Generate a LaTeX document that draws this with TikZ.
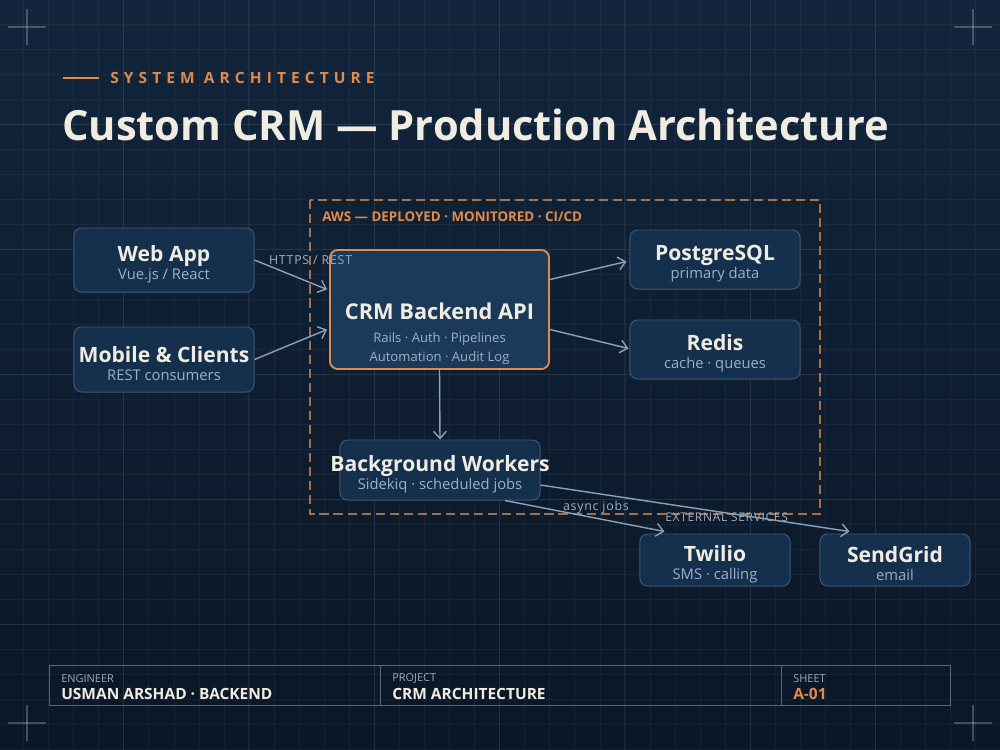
\documentclass[tikz,border=0pt]{standalone}
\usepackage{fontspec}
\setmainfont{Open Sans}
\newfontfamily\trackfont[LetterSpace=33]{Open Sans}
\newfontfamily\smalltrack[LetterSpace=6]{Open Sans}
\usepackage{xcolor}
\usepackage{tikz}
\usetikzlibrary{arrows.meta,calc}

\definecolor{bgTop}{HTML}{12253C}
\definecolor{bgBottom}{HTML}{0B1726}
\definecolor{gridCol}{HTML}{8FA6C0}
\definecolor{boxFill}{HTML}{15304D}
\definecolor{boxEdge}{HTML}{3F5873}
\definecolor{apiFill}{HTML}{1B3A5A}
\definecolor{accent}{HTML}{E08B4C}
\definecolor{cream}{HTML}{F1ECE2}
\definecolor{subText}{HTML}{9DB0C6}
\definecolor{wireCol}{HTML}{8CA2BA}
\definecolor{frameCol}{HTML}{56677C}

\tikzstyle{tsGrid} = [
    draw=gridCol,
    opacity=0.07,
    line width=0.5pt
]
\tikzstyle{tsGridMajor} = [
    tsGrid,
    opacity=0.11
]
\tikzstyle{tsCorner} = [
    draw=gridCol,
    opacity=0.4,
    line width=0.8pt
]
\tikzstyle{tsBox} = [
    rectangle,
    rounded corners=5.5pt,
    draw=boxEdge,
    fill=boxFill,
    line width=0.7pt,
    inner sep=0pt,
    align=center,
    text=cream,
    font=\fontsize{10.5}{12.8}\selectfont
]
\tikzstyle{tsWire} = [
    draw=wireCol,
    line width=1pt,
    -{Straight Barb[length=1.8mm,width=3.2mm]}
]
\tikzstyle{tsWireLabel} = [
    text=subText,
    inner sep=0pt,
    font=\smalltrack\fontsize{8.8}{10}\selectfont
]
\tikzstyle{tsSheetLabel} = [
    anchor=west,
    inner sep=0pt,
    text=subText!85!gray,
    font=\fontsize{7.8}{9}\selectfont
]
\tikzstyle{tsSheetValue} = [
    anchor=west,
    inner sep=0pt,
    text=cream,
    font=\bfseries\fontsize{11}{12}\selectfont
]

\newcommand{\nodelines}[2]{%
    \rule{0pt}{17pt}\makebox[0pt]{\fontsize{15}{17}\selectfont\bfseries #1}\\[0pt]
    \makebox[0pt]{\color{subText}#2}}

\begin{document}
\begin{tikzpicture}[x=0.025cm, y=-0.025cm]
    \useasboundingbox (0,0) rectangle (1000,750);

    % Background and grid
    \fill[top color=bgTop, bottom color=bgBottom] (0,0) rectangle (1000,750);
    \foreach \i in {0,...,39} {
        \pgfmathsetmacro{\gx}{23.5+25.06*\i}
        \draw[tsGrid] (\gx,0) -- (\gx,750);
    }
    \foreach \j in {0,...,29} {
        \pgfmathsetmacro{\gy}{24+25*\j}
        \draw[tsGrid] (0,\gy) -- (1000,\gy);
    }
    \foreach \gx in {123.4,248.7,374,499.3,624.6,749.9,875.2} {
        \draw[tsGridMajor] (\gx,0) -- (\gx,750);
    }
    \foreach \gy in {124,249,374,499,624} {
        \draw[tsGridMajor] (0,\gy) -- (1000,\gy);
    }

    % Corner marks
    \foreach \cx/\cy in {27/27, 973/27, 27/723, 973/723} {
        \draw[tsCorner] (\cx-19,\cy) -- (\cx+19,\cy);
        \draw[tsCorner] (\cx,\cy-18) -- (\cx,\cy+18);
    }

    % Header
    \draw[accent, line width=1.4pt] (63,78) -- (99,78);
    \node[anchor=west, inner sep=0pt, text=accent,
          font=\trackfont\bfseries\fontsize{11}{12}\selectfont] (kicker) at (110,78) {SYSTEM ARCHITECTURE};
    \node[anchor=west, inner sep=0pt, text=cream,
          font=\bfseries\fontsize{29.6}{34}\selectfont] (title) at (62,125) {Custom CRM — Production Architecture};

    % AWS boundary
    \draw[draw=accent, opacity=0.75, line width=0.9pt, dash pattern=on 6.5pt off 3.5pt]
        (310,200) rectangle (820,514);
    \node[anchor=west, inner sep=0pt, text=accent,
          font=\bfseries\fontsize{9.5}{11}\selectfont] (awslabel) at (322,217) {AWS — DEPLOYED · MONITORED · CI/CD};

    % Clients
    \node[tsBox, minimum width=4.5cm, minimum height=1.6cm] (web) at (164,260)
        {\nodelines{Web App}{Vue.js / React}};
    \node[tsBox, minimum width=4.5cm, minimum height=1.625cm] (mob) at (164,359.5)
        {\nodelines{Mobile \& Clients}{REST consumers}};

    % Backend API
    \node[tsBox, fill=apiFill, draw=accent, line width=1.3pt,
          minimum width=5.475cm, minimum height=2.975cm,
          label={[yshift=-17.5pt, align=center, text=cream,
                  font=\fontsize{9.3}{13.5}\selectfont]center:
                  \makebox[0pt]{\fontsize{15.5}{17}\selectfont\bfseries CRM Backend API}\\[3pt]
                  \makebox[0pt]{\color{subText}Rails · Auth · Pipelines}\\
                  \makebox[0pt]{\color{subText}Automation · Audit Log}}] (api) at (439.5,309.5) {};

    % Data stores
    \node[tsBox, minimum width=4.25cm, minimum height=1.475cm] (pg) at (715,259.5)
        {\nodelines{PostgreSQL}{primary data}};
    \node[tsBox, minimum width=4.25cm, minimum height=1.475cm] (redis) at (715,349.5)
        {\nodelines{Redis}{cache · queues}};

    % Workers
    \node[tsBox, minimum width=5cm, minimum height=1.5cm] (bw) at (440,470)
        {\nodelines{Background Workers}{Sidekiq · scheduled jobs}};

    % External services
    \node[tsWireLabel, anchor=west, font=\smalltrack\fontsize{8.5}{9}\selectfont] (extlabel) at (665,517) {EXTERNAL SERVICES};
    \node[tsBox, minimum width=3.75cm, minimum height=1.3cm] (tw) at (715,560)
        {\nodelines{Twilio}{SMS · calling}};
    \node[tsBox, minimum width=3.75cm, minimum height=1.3cm] (sg) at (895,560)
        {\nodelines{SendGrid}{email}};

    % Connectors
    \draw[tsWire] (web.east) -- ($(api.west)+(-2,-20)$)
        node[tsWireLabel, pos=0.19, anchor=south west] {HTTPS / REST};
    \draw[tsWire] (mob.east) -- ($(api.west)+(-2,20)$);
    \draw[tsWire] ($(api.east)+(0,-30)$) -- ($(pg.west)+(-3,2)$);
    \draw[tsWire] ($(api.east)+(0,20)$) -- ($(redis.west)+(-1,-1)$);
    \draw[tsWire] (api.south) -- (bw.north);
    \draw[tsWire] ($(bw.south)+(65,0)$) -- ($(tw.north west)+(25,-2)$)
        node[tsWireLabel, pos=0.57, above=3pt] {async jobs};
    \draw[tsWire] ($(bw.east)+(0,15)$) -- ($(sg.north west)+(30,-2)$);

    % Title block
    \draw[draw=frameCol, line width=0.6pt] (49,665) rectangle (950,705);
    \draw[draw=frameCol, line width=0.6pt] (380,665) -- (380,705);
    \draw[draw=frameCol, line width=0.6pt] (781,665) -- (781,705);
    \node[tsSheetLabel] (englabel) at (61,679) {ENGINEER};
    \node[tsSheetValue] (engvalue) at (61,694) {USMAN ARSHAD · BACKEND};
    \node[tsSheetLabel] (projlabel) at (392,679) {PROJECT};
    \node[tsSheetValue] (projvalue) at (392,694) {CRM ARCHITECTURE};
    \node[tsSheetLabel] (sheetlabel) at (793,679) {SHEET};
    \node[tsSheetValue, text=accent] (sheetvalue) at (793,694) {A-01};
\end{tikzpicture}
\end{document}
